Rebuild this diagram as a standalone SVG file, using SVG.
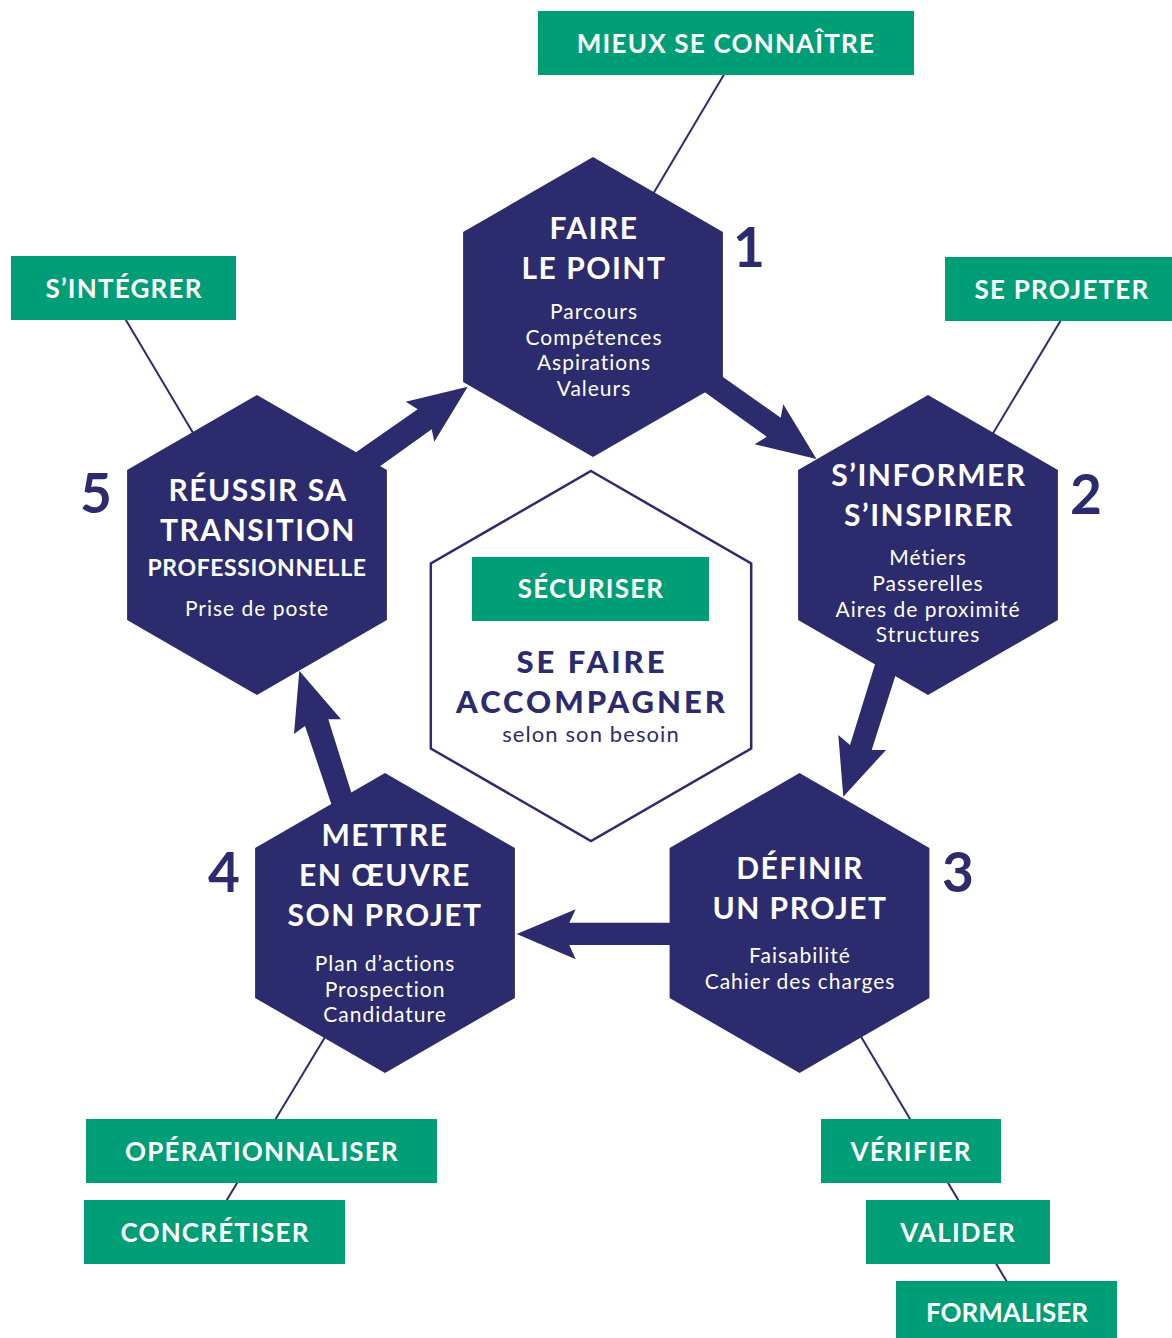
<svg xmlns="http://www.w3.org/2000/svg" xmlns:xlink="http://www.w3.org/1999/xlink" width="1172" height="1338" viewBox="0 0 1172 1338">
<style>
.hex{fill:#2C2B6D}
.box{fill:#009E76}
.lbl{font-family:Lato,"Liberation Sans",sans-serif;font-weight:700;font-size:26px;letter-spacing:1.2px;fill:#fff;text-anchor:middle}
.ttl{font-family:Lato,"Liberation Sans",sans-serif;font-weight:700;font-size:30px;letter-spacing:1.5px;fill:#fff;text-anchor:middle}
.ttl2{font-family:Lato,"Liberation Sans",sans-serif;font-weight:700;font-size:23px;letter-spacing:0.6px;fill:#fff;text-anchor:middle}
.sub{font-family:Lato,"Liberation Sans",sans-serif;font-weight:400;font-size:21px;letter-spacing:1px;fill:#fff;text-anchor:middle}
.num{font-family:Lato,"Liberation Sans",sans-serif;font-weight:700;font-size:55px;fill:#2C2B6D;text-anchor:middle}
.ctr{font-family:Lato,"Liberation Sans",sans-serif;font-weight:900;font-size:31px;letter-spacing:3px;fill:#2C2B6D;text-anchor:middle}
.ctrsub{font-family:Lato,"Liberation Sans",sans-serif;font-weight:400;font-size:22px;letter-spacing:1.1px;fill:#2C2B6D;text-anchor:middle}
.con{stroke:#2C2B6D;stroke-width:2;fill:none}
.arr{fill:#2C2B6D}
</style>
<defs>
<polygon id="hexshape" points="0,-150 129.9,-75 129.9,75 0,150 -129.9,75 -129.9,-75"/>
</defs>
<rect width="1172" height="1338" fill="#fff"/>

<g id="connectors">
<line class="con" x1="724.3" y1="74" x2="640" y2="216"/>
<line class="con" x1="1061" y1="320" x2="980" y2="455"/>
<line class="con" x1="125.3" y1="319" x2="205" y2="453"/>
<line class="con" x1="347.4" y1="1000" x2="223.8" y2="1205"/>
<line class="con" x1="839.2" y1="1000" x2="1011.8" y2="1290"/>
<polygon class="arr" points="705.3,364.4 780.7,417.7 783.3,404.3 816.5,459 754.7,444.3 766.7,436.7 686.5,379"/>
<polygon class="arr" points="881,645 850,745 838.3,735 843.3,796.7 886,750 871.7,750 902,655"/>
<polygon class="arr" points="680,922.7 569.3,922.7 575.7,909.3 516.7,934 575.7,959.3 569.3,945 680,945"/>
<polygon class="arr" points="336,818 305,726 294,734 299.3,670.7 341,719.3 328.3,719.3 359,817"/>
<polygon class="arr" points="338.4,464.4 417.7,409.3 405.7,401.7 467.7,386.7 434.3,441.7 431.7,429.3 363.6,477.9"/>
</g>

<g id="center">
<polygon points="591,471 751.2,563.5 751.2,748.5 591,841 430.8,748.5 430.8,563.5" fill="#fff" stroke="#2C2B6D" stroke-width="2.5"/>
<rect class="box" x="472" y="557" width="237" height="64"/>
<text class="lbl" x="591" y="598">SÉCURISER</text>
<text class="ctr" x="592" y="673">SE FAIRE</text>
<text class="ctr" x="592" y="713">ACCOMPAGNER</text>
<text class="ctrsub" x="591" y="742">selon son besoin</text>
</g>

<g id="hex1">
<use href="#hexshape" class="hex" x="593" y="307"/>
<text class="ttl" x="594" y="239">FAIRE</text>
<text class="ttl" x="594" y="279">LE POINT</text>
<text class="sub" x="594" y="319">Parcours</text>
<text class="sub" x="594" y="345">Compétences</text>
<text class="sub" x="594" y="370">Aspirations</text>
<text class="sub" x="594" y="396">Valeurs</text>
<text class="num" x="749" y="267">1</text>
</g>

<g id="hex2">
<use href="#hexshape" class="hex" x="928" y="545"/>
<text class="ttl" x="929" y="486">S’INFORMER</text>
<text class="ttl" x="929" y="526">S’INSPIRER</text>
<text class="sub" x="928" y="565">Métiers</text>
<text class="sub" x="928" y="591">Passerelles</text>
<text class="sub" x="928" y="617">Aires de proximité</text>
<text class="sub" x="928" y="642">Structures</text>
<text class="num" x="1086" y="514">2</text>
</g>

<g id="hex3">
<use href="#hexshape" class="hex" x="799.5" y="923"/>
<text class="ttl" x="800" y="879">DÉFINIR</text>
<text class="ttl" x="800" y="919">UN PROJET</text>
<text class="sub" x="800" y="963">Faisabilité</text>
<text class="sub" x="800" y="989">Cahier des charges</text>
<text class="num" x="958" y="892">3</text>
</g>

<g id="hex4">
<use href="#hexshape" class="hex" x="385" y="923"/>
<text class="ttl" x="385" y="846">METTRE</text>
<text class="ttl" x="385" y="886">EN ŒUVRE</text>
<text class="ttl" x="385" y="926">SON PROJET</text>
<text class="sub" x="385" y="971">Plan d’actions</text>
<text class="sub" x="385" y="997">Prospection</text>
<text class="sub" x="385" y="1022">Candidature</text>
<text class="num" x="224" y="892">4</text>
</g>

<g id="hex5">
<use href="#hexshape" class="hex" x="257" y="545"/>
<text class="ttl" x="258" y="501">RÉUSSIR SA</text>
<text class="ttl" x="258" y="541">TRANSITION</text>
<text class="ttl2" x="257" y="576">PROFESSIONNELLE</text>
<text class="sub" x="257" y="616">Prise de poste</text>
<text class="num" x="96" y="513">5</text>
</g>

<g id="label-mieux">
<rect class="box" x="538" y="11" width="376" height="64"/>
<text class="lbl" x="726" y="53">MIEUX SE CONNAÎTRE</text>
</g>
<g id="label-projeter">
<rect class="box" x="945" y="257" width="227" height="64"/>
<text class="lbl" x="1062" y="299">SE PROJETER</text>
</g>
<g id="label-integrer">
<rect class="box" x="11" y="256" width="225" height="64"/>
<text class="lbl" x="124" y="298">S’INTÉGRER</text>
</g>
<g id="label-operationnaliser">
<rect class="box" x="86" y="1119" width="351" height="64"/>
<text class="lbl" x="262" y="1161">OPÉRATIONNALISER</text>
</g>
<g id="label-concretiser">
<rect class="box" x="84" y="1200" width="261" height="64"/>
<text class="lbl" x="215" y="1242">CONCRÉTISER</text>
</g>
<g id="label-verifier">
<rect class="box" x="821" y="1119" width="180" height="64"/>
<text class="lbl" x="911" y="1161">VÉRIFIER</text>
</g>
<g id="label-valider">
<rect class="box" x="866" y="1200" width="184" height="64"/>
<text class="lbl" x="958" y="1242">VALIDER</text>
</g>
<g id="label-formaliser">
<rect class="box" x="896" y="1281" width="221" height="64"/>
<text class="lbl" x="1007" y="1322" style="letter-spacing:0">FORMALISER</text>
</g>
</svg>
